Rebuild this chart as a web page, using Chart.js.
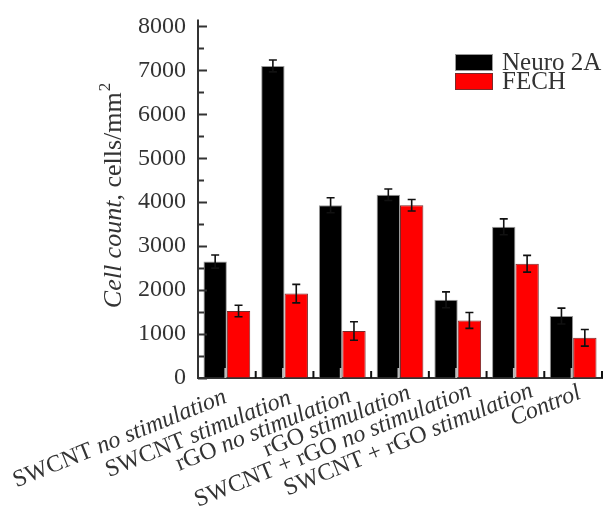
<!DOCTYPE html>
<html>
<head>
<meta charset="utf-8">
<script src="https://cdn.jsdelivr.net/npm/chart.js@4.4.1/dist/chart.umd.min.js"></script>
<style>
  body { margin: 0; background: #fff; }
  canvas { display: block; }
</style>
</head>
<body>
<canvas id="cells" width="607" height="521"></canvas>
<script>
var categories = ["SWCNT no stimulation", "SWCNT stimulation", "rGO no stimulation", "rGO stimulation",
                  "SWCNT + rGO no stimulation", "SWCNT + rGO stimulation", "Control"];
var neuro2a = [2650, 7100, 3930, 4170, 1780, 3440, 1410];
var neuro2aErr = [150, 135, 170, 130, 180, 180, 180];
var fech = [1525, 1920, 1070, 3930, 1310, 2600, 915];
var fechErr = [130, 210, 210, 130, 180, 190, 190];
var yTicks = [0, 1000, 2000, 3000, 4000, 5000, 6000, 7000, 8000];

var serif = "'Liberation Serif', 'Times New Roman', serif";
var ink = "#333";

// split a label into its upright part (materials) and italic part (condition)
function labelParts(txt) {
  var m = txt.match(/^(SWCNT \+ rGO|SWCNT|rGO) (.*)$/);
  if (m) return [[m[1] + " ", false], [m[2], true]];
  return [[txt, true]];
}

function drawParts(ctx, parts, size, align) {
  var total = 0;
  parts.forEach(function(p) {
    ctx.font = (p[1] ? "italic " : "") + size + "px " + serif;
    total += ctx.measureText(p[0]).width;
  });
  var x = align === "right" ? -total : (align === "center" ? -total / 2 : 0);
  parts.forEach(function(p) {
    ctx.font = (p[1] ? "italic " : "") + size + "px " + serif;
    ctx.fillText(p[0], x, 0);
    x += ctx.measureText(p[0]).width;
  });
  return x;
}

var errorBars = {
  id: "errorBars",
  afterDatasetsDraw: function(chart) {
    var ctx = chart.ctx, y = chart.scales.y;
    var errs = [neuro2aErr, fechErr];
    ctx.save();
    ctx.strokeStyle = "#111";
    ctx.lineWidth = 1.6;
    chart.data.datasets.forEach(function(ds, d) {
      chart.getDatasetMeta(d).data.forEach(function(bar, i) {
        var top = y.getPixelForValue(ds.data[i] + errs[d][i]);
        var bot = y.getPixelForValue(ds.data[i] - errs[d][i]);
        ctx.beginPath();
        ctx.moveTo(bar.x, top); ctx.lineTo(bar.x, bot);
        ctx.moveTo(bar.x - 4, top); ctx.lineTo(bar.x + 4, top);
        ctx.moveTo(bar.x - 4, bot); ctx.lineTo(bar.x + 4, bot);
        ctx.stroke();
      });
    });
    ctx.restore();
  }
};

var decorations = {
  id: "decorations",
  afterDraw: function(chart) {
    var ctx = chart.ctx, x = chart.scales.x, y = chart.scales.y, area = chart.chartArea;
    ctx.save();
    // y axis runs a little past the top tick
    ctx.strokeStyle = ink;
    ctx.lineWidth = 2;
    ctx.beginPath();
    ctx.moveTo(area.left, area.top);
    ctx.lineTo(area.left, area.top - 7);
    ctx.stroke();
    // inner ticks on y axis
    for (var v = 0; v <= 8000; v += 500) {
      var py = Math.round(y.getPixelForValue(v)) + 0.5;
      ctx.beginPath();
      ctx.moveTo(area.left, py);
      ctx.lineTo(area.left + (v % 1000 === 0 ? 9 : 6), py);
      ctx.stroke();
    }
    // inner ticks on x axis
    var step = x.getPixelForValue(1) - x.getPixelForValue(0);
    categories.forEach(function(c, i) {
      var cx = x.getPixelForValue(i);
      ctx.strokeStyle = "#bbb";
      ctx.beginPath();
      ctx.moveTo(cx - 1.5, area.bottom); ctx.lineTo(cx - 1.5, area.bottom - 10);
      ctx.stroke();
      ctx.strokeStyle = "#111";
      ctx.beginPath();
      ctx.moveTo(cx + step / 2, area.bottom); ctx.lineTo(cx + step / 2, area.bottom - 7);
      ctx.stroke();
    });

    // category labels, rotated, right end near each category
    var nudge = [1, 8, 10, 12, 15, 19, 9];
    var lift = [402, 403, 401, 398, 396, 396, 398];
    ctx.fillStyle = ink;
    ctx.textBaseline = "alphabetic";
    categories.forEach(function(c, i) {
      ctx.save();
      ctx.translate(x.getPixelForValue(i) + nudge[i], lift[i]);
      ctx.rotate(-22 * Math.PI / 180);
      drawParts(ctx, labelParts(c), 24, "right");
      ctx.restore();
    });

    // y axis title
    ctx.save();
    ctx.translate(121, 196);
    ctx.rotate(-Math.PI / 2);
    var parts = [["Cell count", true], [", cells/mm", false]];
    var total = 0;
    parts.forEach(function(p) {
      ctx.font = (p[1] ? "italic " : "") + "26px " + serif;
      total += ctx.measureText(p[0]).width;
    });
    ctx.font = "17px " + serif;
    total += ctx.measureText("2").width;
    ctx.translate(-total / 2, 0);
    var endX = drawParts(ctx, parts, 26, "left");
    ctx.font = "17px " + serif;
    ctx.fillText("2", endX + 1, -11);
    ctx.restore();

    // legend
    var lx = 455, ly = 54;
    ctx.font = "25px " + serif;
    ctx.textBaseline = "middle";
    chart.data.datasets.forEach(function(ds, d) {
      var by = ly + d * 19;
      ctx.fillStyle = ds.backgroundColor;
      ctx.fillRect(lx, by, 38, 17);
      ctx.strokeStyle = ds.borderColor;
      ctx.lineWidth = 1;
      ctx.strokeRect(lx + 0.5, by + 0.5, 37, 16);
      ctx.fillStyle = ink;
      ctx.fillText(ds.label, 502, by + 9);
    });
    ctx.restore();
  }
};

new Chart(document.getElementById("cells"), {
  type: "bar",
  data: {
    labels: categories,
    datasets: [
      { label: "Neuro 2A", data: neuro2a, backgroundColor: "#000000", borderColor: "#999999", borderWidth: 1 },
      { label: "FECH", data: fech, backgroundColor: "#ff0000", borderColor: "#7a2a2a", borderWidth: 1 }
    ]
  },
  options: {
    responsive: false,
    animation: false,
    devicePixelRatio: 1,
    layout: { padding: { top: 19, right: 5, left: 0, bottom: 0 } },
    datasets: { bar: { categoryPercentage: 0.81, barPercentage: 1.0 } },
    plugins: { legend: { display: false }, tooltip: { enabled: false } },
    scales: {
      x: {
        grid: { display: false },
        border: { display: true, color: ink, width: 2 },
        ticks: { display: false },
        afterFit: function(s) { s.height = 143; }
      },
      y: {
        min: 0,
        max: 8000,
        afterBuildTicks: function(s) { s.ticks = yTicks.map(function(v) { return { value: v }; }); },
        ticks: {
          color: ink,
          font: { family: serif, size: 24 },
          padding: 12,
          callback: function(v) { return String(v); }
        },
        grid: { drawOnChartArea: false, drawTicks: false },
        border: { display: true, color: ink, width: 2 },
        afterFit: function(s) { s.width = 198; }
      }
    }
  },
  plugins: [errorBars, decorations]
});
</script>
</body>
</html>
